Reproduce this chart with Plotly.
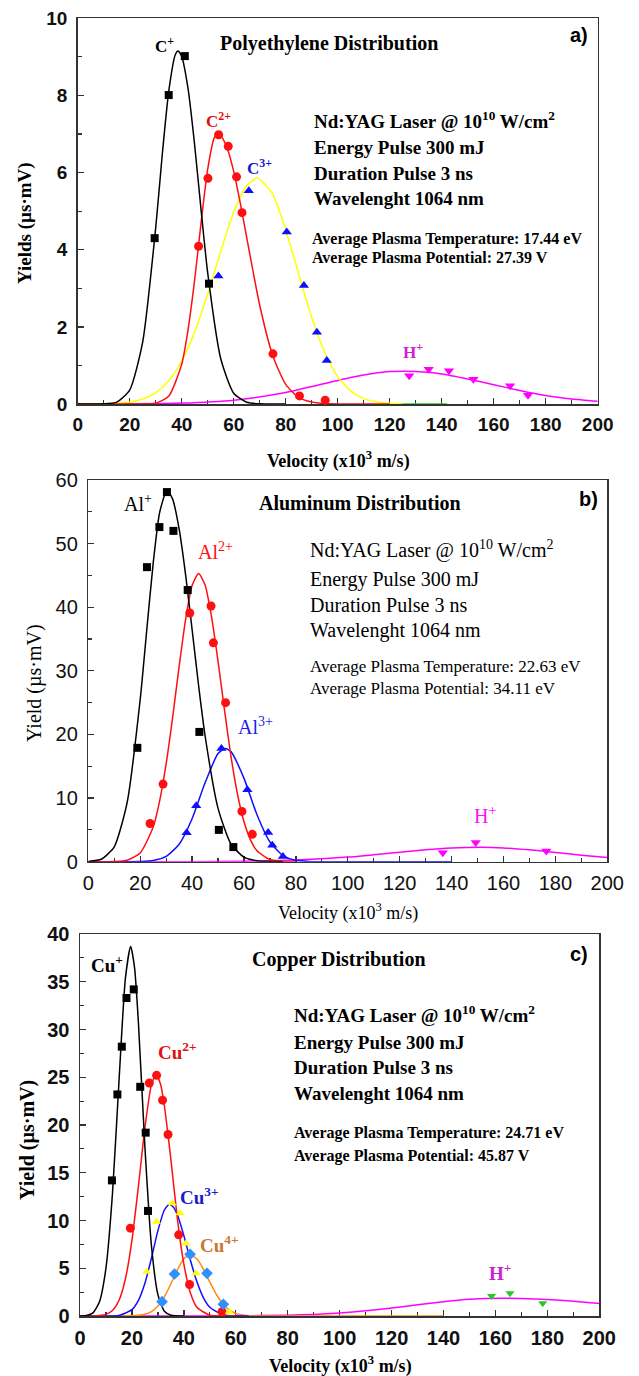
import plotly.graph_objects as go

W, H = 639, 1376
SERIF = "Liberation Serif, Times New Roman, serif"
SANS = "Liberation Sans, Arial, sans-serif"

# ---------------- Panel a : Polyethylene ----------------
pe_c1_x = [29.6, 35.0, 41.2, 50.5]
pe_c1_y = [4.30, 8.01, 9.02, 3.12]
pe_c2_x = [46.5, 50.1, 54.2, 57.9, 61.1, 63.2, 75.1, 85.3, 95.2]
pe_c2_y = [4.09, 5.85, 6.98, 6.68, 5.89, 4.96, 1.30, 0.21, 0.10]
pe_c3_x = [54.1, 65.8, 80.4, 87.0, 92.0, 95.8]
pe_c3_y = [3.32, 5.53, 4.46, 3.07, 1.86, 1.13]
pe_h_x = [127.5, 135.0, 142.8, 152.2, 166.3, 173.2]
pe_h_y = [0.73, 0.90, 0.86, 0.64, 0.47, 0.23]

pe_c1_fit_x = [0, 10, 15, 20, 25, 30, 32.5, 35, 37.5, 38.6, 40, 42.5, 45, 47.5, 50, 55, 60, 65, 70, 80]
pe_c1_fit_y = [0, 0.004, 0.05, 0.36, 1.61, 4.57, 6.45, 8.10, 9.05, 9.15, 9.01, 8.15, 6.70, 5.00, 3.40, 1.18, 0.28, 0.045, 0.005, 0]
pe_c2_fit_x = [0, 20, 25, 30, 35, 40, 42.5, 45, 47.5, 50, 52.5, 53.7, 55, 57.5, 60, 62.5, 65, 70, 75, 80, 85, 90, 95, 100, 120]
pe_c2_fit_y = [0, 0, 0.002, 0.023, 0.20, 1.03, 1.95, 3.23, 4.73, 6.09, 6.90, 7.00, 6.96, 6.63, 6.03, 5.22, 4.32, 2.56, 1.26, 0.51, 0.17, 0.05, 0.011, 0, 0]
pe_c3_fit_x = [0, 10, 20, 25, 30, 35, 40, 45, 50, 55, 60, 65, 69.2, 75, 80, 85, 90, 95, 100, 105, 110, 115, 120, 125]
pe_c3_fit_y = [0, 0.006, 0.05, 0.13, 0.29, 0.60, 1.11, 1.87, 2.85, 3.95, 4.97, 5.66, 5.86, 5.44, 4.52, 3.37, 2.24, 1.34, 0.71, 0.34, 0.14, 0.06, 0.02, 0]
pe_h_fit_x = [0, 20, 40, 60, 80, 100, 110, 120, 126, 130, 140, 150, 160, 170, 180, 190, 200]
pe_h_fit_y = [0, 0.004, 0.023, 0.10, 0.30, 0.61, 0.75, 0.84, 0.85, 0.84, 0.78, 0.65, 0.50, 0.35, 0.22, 0.13, 0.07]
pe_base_x = [120, 142]
pe_base_y = [0, 0]

# ---------------- Panel b : Aluminum ----------------
al_1_x = [18.9, 22.6, 27.4, 30.3, 32.8, 38.3, 42.8, 50.3, 55.9]
al_1_y = [17.9, 46.3, 52.6, 58.1, 52.0, 42.7, 20.4, 5.0, 2.3]
al_2_x = [23.8, 28.8, 39.1, 47.3, 48.2, 52.9, 59.2, 63.2]
al_2_y = [6.0, 12.2, 39.1, 40.2, 34.4, 25.0, 7.9, 4.3]
al_3_x = [37.9, 41.6, 51.3, 61.3, 69.3, 70.9, 75.0]
al_3_y = [4.56, 8.8, 17.8, 11.3, 4.6, 2.6, 0.8]
al_h_x = [136.6, 149.3, 176.5]
al_h_y = [1.4, 3.0, 1.7]

al_1_fit_x = [0, 5, 10, 15, 20, 22.5, 25, 27.5, 30.3, 32.5, 35, 37.5, 40, 42.5, 45, 50, 55, 60, 65, 70, 75]
al_1_fit_y = [0.045, 0.39, 2.34, 9.38, 25.5, 36.3, 46.9, 54.9, 58.4, 57.0, 52.3, 45.1, 36.5, 27.7, 19.8, 8.39, 2.76, 0.71, 0.14, 0.02, 0]
al_2_fit_x = [0, 5, 10, 15, 20, 25, 27.5, 30, 32.5, 35, 37.5, 40, 42.5, 45, 47.5, 50, 52.5, 55, 57.5, 60, 62.5, 65, 70, 75, 80]
al_2_fit_y = [0, 0.003, 0.03, 0.24, 1.37, 5.44, 9.55, 15.4, 22.7, 30.7, 38.1, 43.4, 45.3, 43.5, 38.5, 31.5, 23.8, 16.5, 10.6, 6.27, 3.42, 1.72, 0.34, 0.05, 0]
al_3_fit_x = [0, 15, 20, 25, 30, 35, 40, 45, 50, 52.8, 55, 60, 65, 70, 75, 80, 85, 90, 140]
al_3_fit_y = [0, 0.004, 0.03, 0.185, 0.83, 2.74, 6.76, 12.4, 17.0, 17.8, 17.3, 13.1, 7.39, 3.10, 0.97, 0.22, 0.04, 0.005, 0]
al_h_fit_x = [0, 40, 60, 80, 100, 110, 120, 130, 140, 151, 160, 170, 180, 190, 200]
al_h_fit_y = [0, 0.01, 0.06, 0.26, 0.73, 1.09, 1.49, 1.87, 2.14, 2.26, 2.17, 1.87, 1.46, 1.02, 0.65]

# ---------------- Panel c : Copper ----------------
cu_1_x = [12.3, 14.4, 16.1, 17.9, 20.7, 23.2, 25.3, 26.2]
cu_1_y = [14.2, 23.2, 28.2, 33.3, 34.2, 24.0, 19.2, 11.0]
cu_2_x = [19.4, 26.7, 29.5, 31.8, 33.9, 38.0, 42.2, 54.7]
cu_2_y = [9.2, 24.4, 25.2, 22.6, 19.0, 8.5, 3.3, 0.45]
cu_3_x = [25.7, 29.5, 35.5, 38.5, 40.8, 44.7, 57.5]
cu_3_y = [4.64, 9.87, 11.8, 10.75, 7.6, 4.47, 0.45]
cu_4_x = [31.6, 36.4, 42.4, 48.9, 55.2]
cu_4_y = [1.5, 4.4, 6.46, 4.47, 1.23]
cu_h_x = [158.5, 165.6, 178.2]
cu_h_y = [2.09, 2.37, 1.33]

cu_1_fit_x = [0, 2.5, 5, 7.5, 10, 12.5, 15, 17.5, 19.5, 21, 22.5, 25, 27.5, 30, 32.5, 35, 40]
cu_1_fit_y = [0, 0.06, 0.33, 1.49, 5.02, 12.8, 24.5, 35.4, 38.7, 36.5, 30.7, 17.7, 7.41, 2.24, 0.49, 0.08, 0]
cu_2_fit_x = [0, 5, 10, 12.5, 15, 17.5, 20, 22.5, 25, 27.5, 29.3, 31, 32.5, 35, 37.5, 40, 42.5, 45, 50, 55, 60]
cu_2_fit_y = [0, 0.01, 0.17, 0.57, 1.62, 3.9, 7.91, 13.6, 19.7, 24.2, 25.3, 24.3, 22.0, 16.4, 10.2, 5.43, 2.43, 0.92, 0.08, 0.004, 0]
cu_3_fit_x = [0, 10, 15, 20, 22.5, 25, 27.5, 30, 32.5, 34.4, 36, 37.5, 40, 42.5, 45, 47.5, 50, 55, 60, 65]
cu_3_fit_y = [0, 0.003, 0.06, 0.66, 1.64, 3.43, 6.04, 8.94, 11.1, 11.7, 11.4, 10.6, 8.42, 5.87, 3.60, 1.93, 0.91, 0.14, 0.01, 0]
cu_4_fit_x = [0, 15, 20, 25, 27.5, 30, 32.5, 35, 37.5, 40, 42.4, 45, 47.5, 50, 52.5, 55, 57.5, 60, 65, 70, 140]
cu_4_fit_y = [0, 0.001, 0.017, 0.18, 0.46, 1.04, 2.01, 3.36, 4.83, 6.0, 6.42, 5.99, 4.92, 3.56, 2.27, 1.27, 0.63, 0.27, 0.035, 0.003, 0]
cu_h_fit_x = [0, 40, 60, 80, 90, 100, 110, 120, 130, 140, 150, 162, 170, 180, 190, 200]
cu_h_fit_y = [0, 0.002, 0.016, 0.085, 0.17, 0.32, 0.54, 0.83, 1.17, 1.50, 1.75, 1.87, 1.84, 1.73, 1.54, 1.31]

# axis tick settings
x_ticks = dict(range=[0, 200], dtick=20, minor=10)
ya_ticks = dict(range=[0, 10], dtick=2, minor=1)
yb_ticks = dict(range=[0, 60], dtick=10, minor=5)
yc_ticks = dict(range=[0, 40], dtick=5, minor=2.5)

BLACK = "#000000"
RED = "#ff1010"
BLUE = "#1010ff"
YELLOW = "#ffff00"
MAGENTA = "#ff00ff"
ORANGE = "#ff8a10"
GREEN = "#22cc22"
DIAM = "#2e8fff"

fig = go.Figure()


def curve(x, y, color, n, width=1.5):
    fig.add_trace(go.Scatter(x=x, y=y, mode="lines",
                             line=dict(color=color, width=width, shape="spline", smoothing=0.6),
                             xaxis="x" + n, yaxis="y" + n, hoverinfo="skip", showlegend=False))


def pts(x, y, color, symbol, n, size=8):
    fig.add_trace(go.Scatter(x=x, y=y, mode="markers", cliponaxis=False,
                             marker=dict(symbol=symbol, size=size, color=color, line=dict(width=0)),
                             xaxis="x" + n, yaxis="y" + n, hoverinfo="skip", showlegend=False))


# panel a (axis suffix "")
curve(pe_h_fit_x, pe_h_fit_y, MAGENTA, "")
curve(pe_base_x, pe_base_y, GREEN, "")
curve(pe_c3_fit_x, pe_c3_fit_y, YELLOW, "")
curve(pe_c2_fit_x, pe_c2_fit_y, RED, "")
curve(pe_c1_fit_x, pe_c1_fit_y, BLACK, "")
pts(pe_c1_x, pe_c1_y, BLACK, "square", "")
pts(pe_c2_x, pe_c2_y, RED, "circle", "", 9)
pts(pe_c3_x, pe_c3_y, BLUE, "triangle-up", "", 9)
pts(pe_h_x, pe_h_y, MAGENTA, "triangle-down", "", 9)

# panel b
curve(al_h_fit_x, al_h_fit_y, MAGENTA, "2")
curve(al_3_fit_x, al_3_fit_y, BLUE, "2")
curve(al_2_fit_x, al_2_fit_y, RED, "2")
curve(al_1_fit_x, al_1_fit_y, BLACK, "2")
pts(al_1_x, al_1_y, BLACK, "square", "2")
pts(al_2_x, al_2_y, RED, "circle", "2", 9)
pts(al_3_x, al_3_y, BLUE, "triangle-up", "2", 9)
pts(al_h_x, al_h_y, MAGENTA, "triangle-down", "2", 9)

# panel c
curve(cu_h_fit_x, cu_h_fit_y, MAGENTA, "3")
curve(cu_4_fit_x, cu_4_fit_y, ORANGE, "3")
curve(cu_3_fit_x, cu_3_fit_y, BLUE, "3")
curve(cu_2_fit_x, cu_2_fit_y, RED, "3")
curve(cu_1_fit_x, cu_1_fit_y, BLACK, "3")
pts(cu_1_x, cu_1_y, BLACK, "square", "3")
pts(cu_2_x, cu_2_y, RED, "circle", "3", 9)
pts(cu_3_x, cu_3_y, YELLOW, "triangle-up", "3", 8)
pts(cu_4_x, cu_4_y, DIAM, "diamond", "3", 9)
pts(cu_h_x, cu_h_y, GREEN, "triangle-down", "3", 8)

# ---------- layout ----------
boxes = {"": (77.7, 597.7, 18.3, 404.0), "2": (88.3, 607.3, 480.0, 861.7), "3": (80.0, 599.3, 934.0, 1316.0)}
yt = {"": ya_ticks, "2": yb_ticks, "3": yc_ticks}
boldp = {"": True, "2": False, "3": True}
tsize = {"": 19, "2": 20, "3": 20}

layout = dict(width=W, height=H, margin=dict(l=0, r=0, t=0, b=0, autoexpand=False),
              paper_bgcolor="white", plot_bgcolor="white", showlegend=False)

for n, (x0, x1, y0, y1) in boxes.items():
    tf = dict(family=SANS, size=tsize[n], color="#111", weight="bold" if boldp[n] else "normal")
    common = dict(showline=True, linecolor="#333", linewidth=1.5, mirror=True, showgrid=False,
                  zeroline=False, ticks="inside", ticklen=6, tickwidth=1.3, tickcolor="#333",
                  tickfont=tf, layer="below traces", fixedrange=True, automargin=False)
    layout["xaxis" + n] = dict(common, domain=[x0 / W, x1 / W], anchor="y" + n,
                               range=x_ticks["range"], dtick=x_ticks["dtick"], tick0=0,
                               minor=dict(dtick=x_ticks["minor"], ticks="inside", ticklen=4,
                                          tickcolor="#333", tickwidth=1.2),
                               ticklabelstandoff=3)
    layout["yaxis" + n] = dict(common, domain=[1 - y1 / H, 1 - y0 / H], anchor="x" + n,
                               range=yt[n]["range"], dtick=yt[n]["dtick"], tick0=0,
                               minor=dict(dtick=yt[n]["minor"], ticks="inside", ticklen=4,
                                          tickcolor="#333", tickwidth=1.2),
                               ticklabelstandoff=5)

anns = []


def ann(text, x, y, size, color="black", bold=True, xanchor="center", family=SERIF, angle=0):
    anns.append(dict(text=text, x=x / W, y=1 - y / H, xref="paper", yref="paper", showarrow=False,
                     xanchor=xanchor, yanchor="middle", textangle=angle,
                     font=dict(family=family, size=size, color=color,
                               weight="bold" if bold else "normal")))


VEL = "Velocity (x10<sup>3</sup> m/s)"
ND = "Nd:YAG Laser @ 10<sup>10</sup> W/cm<sup>2</sup>"

# panel a texts
ann("Polyethylene Distribution", 329, 43, 20)
ann("a)", 579, 35, 20, family=SANS)
ann(ND, 311.7, 120, 19, xanchor="left")
ann("Energy Pulse 300 mJ", 311.7, 148, 19, xanchor="left")
ann("Duration Pulse 3 ns", 311.7, 173, 19, xanchor="left")
ann("Wavelenght 1064 nm", 311.7, 199, 19, xanchor="left")
ann("Average Plasma Temperature: 17.44 eV", 310, 239, 16, xanchor="left")
ann("Average Plasma Potential: 27.39 V", 310, 258, 16, xanchor="left")
ann("C<sup>+</sup>", 164, 45, 17)
ann("C<sup>2+</sup>", 218, 120, 17, color="#dd1111")
ann("C<sup>3+</sup>", 259, 167, 17, color="#1a1acc")
ann("H<sup>+</sup>", 413, 351, 17, color="#cc22cc")
ann(VEL, 338, 460, 18)
ann("Yields (µs·mV)", 25, 223, 19, angle=-90)

# panel b texts
ann("Aluminum Distribution", 360, 503, 20)
ann("b)", 588, 499, 20, family=SANS)
ann(ND, 308, 550, 20, bold=False, xanchor="left")
ann("Energy Pulse 300 mJ", 308, 579, 20, bold=False, xanchor="left")
ann("Duration Pulse 3 ns", 308, 605, 20, bold=False, xanchor="left")
ann("Wavelenght 1064 nm", 308, 630, 20, bold=False, xanchor="left")
ann("Average Plasma Temperature: 22.63 eV", 308, 666, 17, bold=False, xanchor="left")
ann("Average Plasma Potential: 34.11 eV", 308, 688, 17, bold=False, xanchor="left")
ann("Al<sup>+</sup>", 138, 503, 20, bold=False)
ann("Al<sup>2+</sup>", 215, 551, 20, color="#ff1010", bold=False)
ann("Al<sup>3+</sup>", 255, 726, 20, color="#1a1aee", bold=False)
ann("H<sup>+</sup>", 485, 815, 20, color="#ff10ff", bold=False)
ann(VEL, 348, 912, 18, bold=False)
ann("Yield (µs·mV)", 35, 683, 20, bold=False, angle=-90)

# panel c texts
ann("Copper Distribution", 339, 959, 20)
ann("c)", 579, 954, 20, family=SANS)
ann(ND, 292, 1014, 19, xanchor="left")
ann("Energy Pulse 300 mJ", 292, 1042, 19, xanchor="left")
ann("Duration Pulse 3 ns", 292, 1067, 19, xanchor="left")
ann("Wavelenght 1064 nm", 292, 1093, 19, xanchor="left")
ann("Average Plasma Temperature: 24.71 eV", 292, 1133, 16, xanchor="left")
ann("Average Plasma Potential: 45.87 V", 292, 1156, 16, xanchor="left")
ann("Cu<sup>+</sup>", 107, 964, 19)
ann("Cu<sup>2+</sup>", 177, 1051, 19, color="#dd1111")
ann("Cu<sup>3+</sup>", 199, 1196, 19, color="#1a1acc")
ann("Cu<sup>4+</sup>", 219, 1244, 19, color="#c87832")
ann("H<sup>+</sup>", 500, 1272, 19, color="#cc22cc")
ann(VEL, 340, 1365, 18)
ann("Yield (µs·mV)", 27, 1140, 20, angle=-90)

layout["annotations"] = anns
fig.update_layout(**layout)
fig.write_html("out.html", config={"displayModeBar": False, "staticPlot": True},
               post_script="document.body.style.margin='0';document.body.style.padding='0';"
                           "document.documentElement.style.overflow='hidden';")
